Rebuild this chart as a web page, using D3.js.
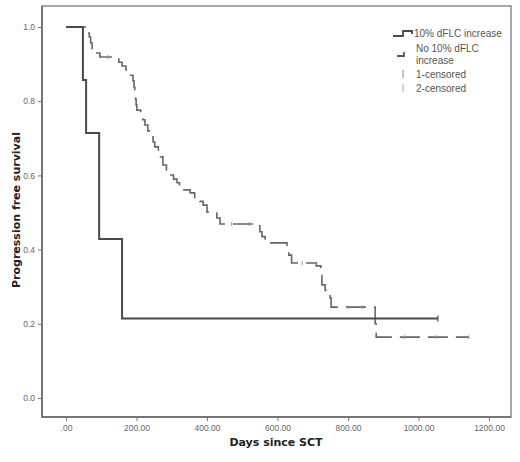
<!DOCTYPE html>
<html><head><meta charset="utf-8">
<script src="https://cdn.jsdelivr.net/npm/d3@7/dist/d3.min.js"></script>
<style>body{margin:0;background:#fff}svg{display:block}</style>
</head><body><svg id="c" width="520" height="462"></svg>
<script>
// ---- data ----
const seriesNames = ["10% dFLC increase", "No 10% dFLC increase"];
// series 1: [days, survival]
const increaseDays = [0, 48, 57, 94, 159, 1055];
const increaseSurv = [1.0, 0.857, 0.714, 0.4286, 0.214, 0.214];
const increaseCensored = [1055];
// series 2
const noIncreaseDays = [0, 62, 66, 70, 74, 80, 96, 150, 159, 170, 176, 190, 193, 195, 197, 199, 201, 212, 218, 224, 232, 241, 247, 252, 262, 268, 275, 285, 293, 305, 315, 322, 352, 365, 380, 389, 400, 428, 437, 550, 556, 565, 627, 632, 640, 710, 723, 726, 735, 749, 752, 877, 880, 1143];
const noIncreaseSurv = [1.0, 0.984, 0.973, 0.957, 0.941, 0.93, 0.919, 0.905, 0.895, 0.884, 0.87, 0.855, 0.838, 0.822, 0.806, 0.79, 0.776, 0.763, 0.75, 0.736, 0.72, 0.704, 0.69, 0.677, 0.664, 0.65, 0.628, 0.615, 0.601, 0.59, 0.58, 0.561, 0.553, 0.54, 0.53, 0.52, 0.501, 0.485, 0.469, 0.448, 0.435, 0.418, 0.399, 0.385, 0.364, 0.356, 0.33, 0.305, 0.29, 0.27, 0.245, 0.2, 0.164, 0.164];
const noIncreaseCensored = [120, 470, 520, 670, 800, 840, 960, 1050, 1143];
const xTicks = [0, 200, 400, 600, 800, 1000, 1200];
const xTickLabels = [".00", "200.00", "400.00", "600.00", "800.00", "1000.00", "1200.00"];
const yTicks = [0, 0.2, 0.4, 0.6, 0.8, 1.0];
const yTickLabels = ["0.0", "0.2", "0.4", "0.6", "0.8", "1.0"];
const legendLabels = ["10% dFLC increase", "No 10% dFLC", "increase", "1-censored", "2-censored"];

// ---- chart ----
const svg = d3.select("#c");
const x = d3.scaleLinear().domain([0, 1200]).range([66, 489]);
const y = d3.scaleLinear().domain([0, 1]).range([398, 27]);
const frame = {l: 42, t: 6, r: 511, b: 417};

svg.append("rect").attr("x", frame.l).attr("y", frame.t)
  .attr("width", frame.r - frame.l).attr("height", frame.b - frame.t)
  .attr("fill", "none").attr("stroke", "#8a8a8a").attr("stroke-width", 1.5);
svg.append("line").attr("x1", frame.l).attr("x2", frame.l).attr("y1", frame.t).attr("y2", frame.b)
  .attr("stroke", "#666").attr("stroke-width", 1.5);
svg.append("line").attr("x1", frame.l).attr("x2", frame.r).attr("y1", frame.b).attr("y2", frame.b)
  .attr("stroke", "#666").attr("stroke-width", 1.5);

const xAxis = svg.append("g").attr("transform", `translate(0,${frame.b})`)
  .call(d3.axisBottom(x).tickValues(xTicks).tickSize(4).tickPadding(4)
    .tickFormat((d, i) => xTickLabels[i]));
xAxis.select(".domain").remove();
xAxis.selectAll("line").attr("stroke", "#777");
xAxis.selectAll("text").attr("font-family", "Liberation Sans, Arial, sans-serif").attr("font-size", 8.5).attr("fill", "#666");

const yAxis = svg.append("g").attr("transform", `translate(${frame.l},0)`)
  .call(d3.axisLeft(y).tickValues(yTicks).tickSize(4).tickPadding(3)
    .tickFormat((d, i) => yTickLabels[i]));
yAxis.select(".domain").remove();
yAxis.selectAll("line").attr("stroke", "#777");
yAxis.selectAll("text").attr("font-family", "Liberation Sans, Arial, sans-serif").attr("font-size", 8.5).attr("fill", "#666");

svg.append("text").attr("x", 276).attr("y", 446).attr("text-anchor", "middle")
  .attr("font-family", "DejaVu Sans, sans-serif").attr("font-weight", "bold").attr("font-size", 11)
  .attr("fill", "#222").text("Days since SCT");
svg.append("text").attr("transform", "translate(20,210) rotate(-90)").attr("text-anchor", "middle")
  .attr("font-family", "DejaVu Sans, sans-serif").attr("font-weight", "bold").attr("font-size", 11)
  .attr("fill", "#222").text("Progression free survival");

const line = d3.line().curve(d3.curveStepAfter).x(d => x(d[0])).y(d => y(d[1]));
const s1 = increaseDays.map((d, i) => [d, increaseSurv[i]]);
const s2 = noIncreaseDays.map((d, i) => [d, noIncreaseSurv[i]]);

svg.append("path").datum(s2).attr("d", line).attr("fill", "none")
  .attr("stroke", "#666").attr("stroke-width", 1.6).attr("stroke-dasharray", "20,8");
svg.append("path").datum(s1).attr("d", line).attr("fill", "none")
  .attr("stroke", "#4a4a4a").attr("stroke-width", 2);

function survAt(days, surv, t) {
  let v = surv[0];
  for (let i = 0; i < days.length; i++) if (days[i] <= t) v = surv[i];
  return v;
}
svg.selectAll(".c1").data(increaseCensored).join("line")
  .attr("x1", d => x(d)).attr("x2", d => x(d))
  .attr("y1", d => y(survAt(increaseDays, increaseSurv, d)) - 3)
  .attr("y2", d => y(survAt(increaseDays, increaseSurv, d)) + 3)
  .attr("stroke", "#4a4a4a").attr("stroke-width", 1.2);
svg.selectAll(".c2").data(noIncreaseCensored).join("line")
  .attr("x1", d => x(d)).attr("x2", d => x(d))
  .attr("y1", d => y(survAt(noIncreaseDays, noIncreaseSurv, d)) - 2)
  .attr("y2", d => y(survAt(noIncreaseDays, noIncreaseSurv, d)) + 2)
  .attr("stroke", "#999").attr("stroke-width", 1);

// legend
const lg = svg.append("g").attr("font-family", "Liberation Sans, Arial, sans-serif")
  .attr("font-size", 10).attr("fill", "#555");
lg.append("path").attr("d", "M393,36 H403 V31 H412 V34").attr("fill", "none")
  .attr("stroke", "#4a4a4a").attr("stroke-width", 1.8);
lg.append("path").attr("d", "M397,56 H404 V52").attr("fill", "none")
  .attr("stroke", "#555").attr("stroke-width", 1.8);
lg.append("line").attr("x1", 403).attr("x2", 403).attr("y1", 70).attr("y2", 78).attr("stroke", "#888");
lg.append("line").attr("x1", 403).attr("x2", 403).attr("y1", 84).attr("y2", 92).attr("stroke", "#aaa");
const ly = [37, 52, 64, 78, 92];
lg.selectAll("text").data(legendLabels).join("text")
  .attr("x", (d, i) => i === 0 ? 414 : 416).attr("y", (d, i) => ly[i]).text(d => d);
</script></body></html>
